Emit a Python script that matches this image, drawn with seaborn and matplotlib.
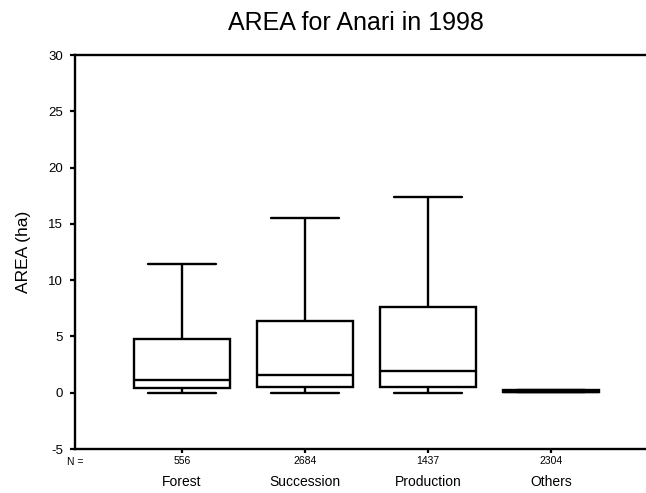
import pandas as pd
import matplotlib
matplotlib.use("Agg")
import matplotlib.pyplot as plt
import matplotlib.transforms as mtransforms
import seaborn as sns

# ======================================================
# DATA (min, Q1, median, Q3, max)
# ======================================================
categories = ["Forest", "Succession", "Production", "Others"]
n_counts = [556, 2684, 1437, 2304]
forest_area = [0.0, 0.4, 1.1, 4.8, 11.4]
succession_area = [0.0, 0.55, 1.6, 6.4, 15.5]
production_area = [0.0, 0.55, 1.9, 7.6, 17.4]
others_area = [0.02, 0.02, 0.1, 0.2, 0.2]
y_ticks = [-5, 0, 5, 10, 15, 20, 25, 30]


def main():
    series = [forest_area, succession_area, production_area, others_area]
    rows = []
    for cat, vals in zip(categories, series):
        for v in vals:
            rows.append({"Cover": cat, "AREA": v})
    df = pd.DataFrame(rows)

    sns.set_style("ticks")
    plt.rcParams["font.family"] = ["Liberation Sans", "DejaVu Sans"]
    plt.rcParams["axes.unicode_minus"] = False
    plt.rcParams["text.color"] = "black"
    plt.rcParams["axes.labelcolor"] = "black"
    plt.rcParams["xtick.color"] = "black"
    plt.rcParams["ytick.color"] = "black"

    fig = plt.figure(figsize=(6.46, 4.93), dpi=100)
    ax = fig.add_axes([75 / 646, 44 / 493, 571 / 646, 394 / 493])

    sns.boxplot(
        data=df, x="Cover", y="AREA", order=categories,
        color="white", linecolor="black", linewidth=1.7,
        width=0.78, whis=(0, 100), showfliers=False,
        capwidths=0.55, ax=ax,
    )

    ax.set_xlim(-0.87, 3.77)
    ax.set_ylim(-5, 30)
    ax.set_yticks(y_ticks)
    ax.tick_params(axis="y", labelsize=9.5, length=3.5, width=1.6, pad=5)
    ax.set_xticks(range(len(categories)))
    ax.set_xticklabels([str(n) for n in n_counts])
    ax.tick_params(axis="x", labelsize=7.5, length=3, width=1.6, pad=2)

    for side in ["left", "top", "bottom"]:
        ax.spines[side].set_linewidth(1.7)
        ax.spines[side].set_color("black")
    ax.spines["right"].set_visible(False)

    ax.set_xlabel("")
    ax.set_ylabel("AREA (ha)", fontsize=12.5)
    ax.yaxis.set_label_coords(-0.077, 0.5)

    # nama kategori di bawah angka N
    trans = mtransforms.blended_transform_factory(ax.transData, ax.transAxes)
    for i, cat in enumerate(categories):
        ax.text(i, -0.084, cat, transform=trans, ha="center", va="center",
                fontsize=10)
    ax.text(0, -0.033, "N =", transform=ax.transAxes, ha="center",
            va="center", fontsize=7.5)

    fig.text(356 / 646, 1 - 23 / 493, "AREA for Anari in 1998",
             ha="center", va="center", fontsize=18)

    fig.savefig("out.png", dpi=100)


if __name__ == "__main__":
    main()
